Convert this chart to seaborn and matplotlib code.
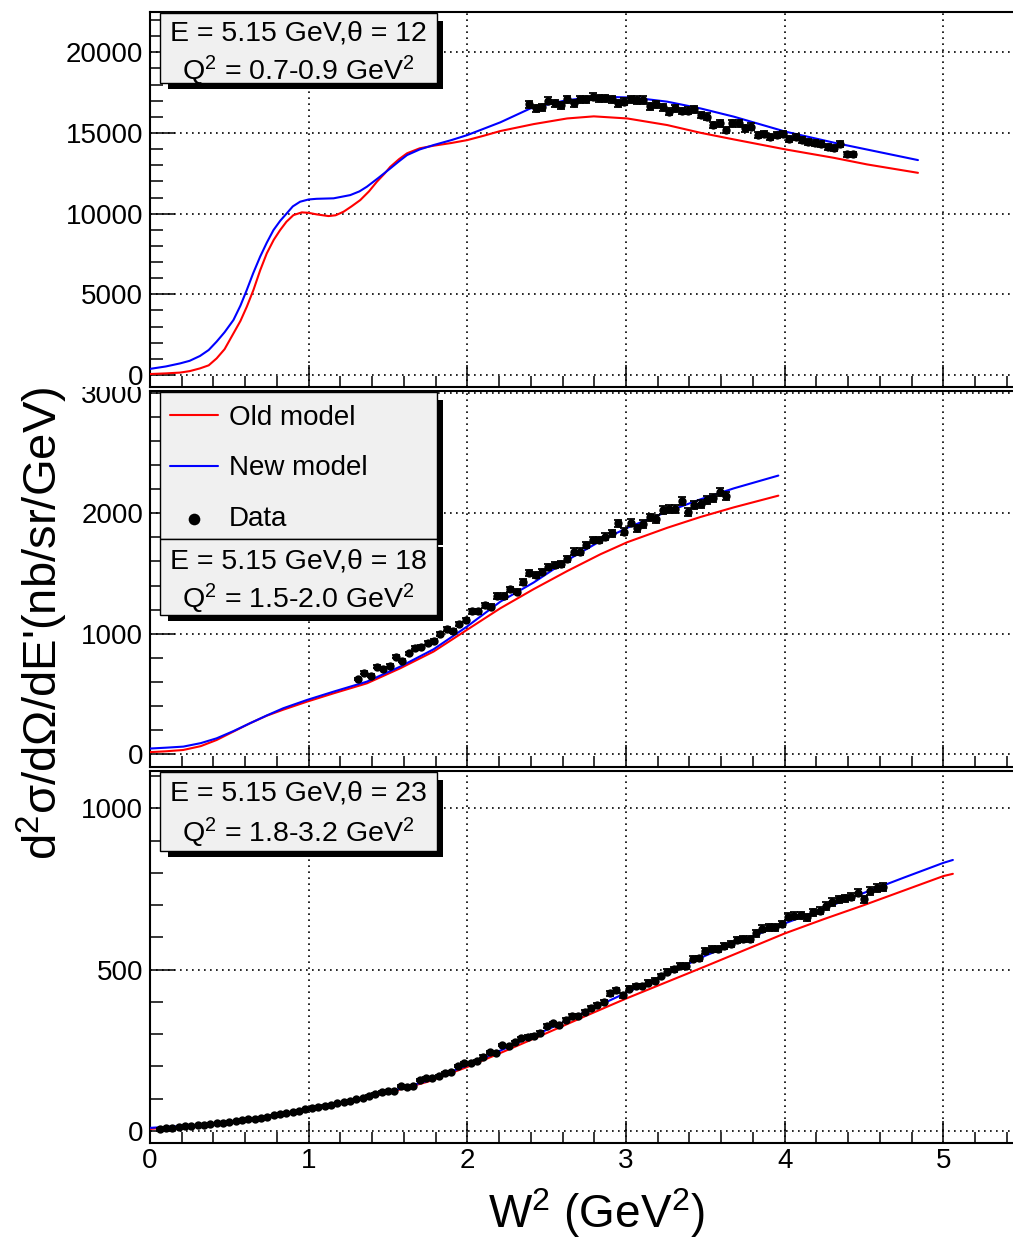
import matplotlib
matplotlib.use("Agg")
import matplotlib.pyplot as plt
import seaborn as sns
from matplotlib.patches import Rectangle
from matplotlib.ticker import MultipleLocator, StrMethodFormatter

sns.set_theme(style="white")
plt.rcParams["font.family"] = ["Liberation Sans", "DejaVu Sans"]
plt.rcParams["mathtext.fontset"] = "custom"
plt.rcParams["mathtext.rm"] = "Liberation Sans"
plt.rcParams["mathtext.it"] = "Liberation Sans:italic"
plt.rcParams["mathtext.bf"] = "Liberation Sans:bold"
plt.rcParams["axes.edgecolor"] = "black"
plt.rcParams["axes.linewidth"] = 1.5
plt.rcParams["text.color"] = "black"

# ---- top panel: theta = 12 ----
top_x_old = [0.00, 0.10, 0.19, 0.25, 0.315, 0.37, 0.42, 0.47, 0.526, 0.57, 0.61, 0.652, 0.694, 0.736, 0.78,
             0.82, 0.86, 0.904, 0.957, 1.00, 1.05, 1.125, 1.17, 1.22, 1.27, 1.325, 1.38, 1.43, 1.48, 1.514,
             1.57, 1.62, 1.70, 1.787, 1.90, 2.00, 2.10, 2.208, 2.418, 2.629, 2.797, 3.008, 3.26, 3.47, 3.68,
             4.006, 4.31, 4.52, 4.84]
top_y_old = [60, 100, 150, 240, 410, 600, 1030, 1600, 2580, 3350, 4230, 5270, 6480, 7540, 8380,
             8980, 9500, 9910, 10080, 10050, 9955, 9850, 9900, 10120, 10450, 10840, 11380, 11980, 12500, 12900,
             13380, 13740, 14050, 14210, 14380, 14560, 14820, 15120, 15550, 15900, 16030, 15900, 15490, 15010, 14600,
             13980, 13460, 13050, 12530]
top_x_new = [0.00, 0.10, 0.19, 0.25, 0.315, 0.37, 0.42, 0.47, 0.526, 0.57, 0.61, 0.65, 0.694, 0.736, 0.778,
             0.82, 0.862, 0.90, 0.946, 1.00, 1.05, 1.157, 1.262, 1.32, 1.367, 1.44, 1.514, 1.57, 1.62, 1.70,
             1.787, 1.90, 2.00, 2.10, 2.208, 2.397, 2.629, 2.839, 3.05, 3.26, 3.47, 3.68, 4.006, 4.31, 4.84]
top_y_new = [380, 530, 720, 880, 1180, 1550, 2070, 2650, 3410, 4300, 5270, 6300, 7330, 8200, 8980,
             9550, 10020, 10450, 10740, 10880, 10920, 10950, 11150, 11380, 11670, 12220, 12800, 13250, 13630, 13980,
             14250, 14560, 14870, 15250, 15660, 16520, 17040, 17250, 17190, 16940, 16520, 16010, 15080, 14400, 13320]
top_x_data = [2.39, 2.43, 2.47, 2.51, 2.55, 2.59, 2.63, 2.67, 2.71, 2.75, 2.79, 2.83, 2.87, 2.91, 2.95,
              2.99, 3.03, 3.07, 3.11, 3.15, 3.19, 3.23, 3.27, 3.31, 3.35, 3.39, 3.43, 3.47, 3.51, 3.55,
              3.59, 3.63, 3.67, 3.71, 3.75, 3.79, 3.83, 3.87, 3.91, 3.95, 3.99, 4.03, 4.07, 4.11, 4.15,
              4.19, 4.23, 4.27, 4.31, 4.35, 4.39, 4.43]
top_y_data = [16790, 16520, 16590, 17000, 16830, 16730, 17100, 16830, 17080, 17080, 17250, 17140, 17140, 17100, 16830,
              16940, 17100, 17040, 17040, 16670, 16770, 16590, 16320, 16520, 16360, 16380, 16460, 16110, 16010, 15490,
              15590, 15180, 15590, 15590, 15290, 15390, 14870, 14930, 14770, 14870, 14930, 14600, 14770, 14560, 14460,
              14400, 14310, 14150, 14050, 14310, 13670, 13670]

# ---- middle panel: theta = 18 ----
mid_x_model = [0.00, 0.10, 0.21, 0.32, 0.42, 0.526, 0.63, 0.736, 0.84, 0.99, 1.157, 1.367, 1.577, 1.787, 1.997,
               2.208, 2.418, 2.629, 2.839, 3.008, 3.26, 3.47, 3.68, 3.96]
mid_y_old = [15, 22, 33, 65, 116, 186, 255, 318, 368, 435, 504, 587, 712, 851, 1031,
             1211, 1370, 1520, 1660, 1760, 1880, 1970, 2050, 2147]
mid_y_new = [45, 52, 61, 90, 130, 190, 255, 320, 380, 449, 518, 601, 726, 870, 1058,
             1266, 1425, 1610, 1770, 1880, 2014, 2117, 2208, 2314]
mid_x_data = [1.31, 1.35, 1.39, 1.43, 1.47, 1.51, 1.55, 1.59, 1.63, 1.67, 1.71, 1.75, 1.79, 1.83, 1.87,
              1.91, 1.95, 1.99, 2.03, 2.07, 2.11, 2.15, 2.19, 2.23, 2.27, 2.31, 2.35, 2.39, 2.43, 2.47,
              2.51, 2.55, 2.59, 2.63, 2.67, 2.71, 2.75, 2.79, 2.83, 2.87, 2.91, 2.95, 2.99, 3.03, 3.07,
              3.11, 3.15, 3.19, 3.23, 3.27, 3.31, 3.35, 3.39, 3.43, 3.47, 3.51, 3.55, 3.59, 3.63]
mid_y_data = [623, 676, 651, 726, 709, 734, 809, 776, 837, 884, 892, 920, 939, 997, 1036,
              1025, 1078, 1114, 1186, 1186, 1236, 1225, 1313, 1313, 1369, 1349, 1430, 1502, 1488, 1516,
              1552, 1571, 1579, 1621, 1682, 1682, 1737, 1779, 1779, 1807, 1834, 1917, 1848, 1923, 1876,
              1912, 1967, 1951, 2028, 2034, 2034, 2103, 2014, 2070, 2075, 2111, 2125, 2175, 2145]

# ---- bottom panel: theta = 23 ----
bot_x_model = [0.00, 0.25, 0.50, 0.75, 1.00, 1.25, 1.50, 1.75, 2.00, 2.25, 2.50, 2.75, 3.00, 3.25, 3.50,
               3.75, 4.00, 4.25, 4.50, 4.75, 5.00, 5.06]
bot_y_old = [6, 14, 27, 44, 65, 90, 118, 152, 198, 250, 303, 357, 410, 460, 510,
             561, 612, 657, 700, 745, 790, 797]
bot_y_new = [9, 16, 28, 45, 66, 91, 120, 155, 203, 258, 313, 370, 428, 484, 543,
             594, 643, 690, 738, 785, 831, 840]
bot_x_data = [0.06, 0.10, 0.14, 0.18, 0.22, 0.26, 0.30, 0.34, 0.38, 0.42,
              0.46, 0.50, 0.54, 0.58, 0.62, 0.66, 0.70, 0.74, 0.78, 0.82,
              0.86, 0.90, 0.94, 0.98, 1.02, 1.06, 1.10, 1.14, 1.18, 1.22,
              1.26, 1.30, 1.34, 1.38, 1.42, 1.46, 1.50, 1.54, 1.58, 1.62,
              1.66, 1.70, 1.74, 1.78, 1.82, 1.86, 1.90, 1.94, 1.98, 2.02,
              2.06, 2.10, 2.14, 2.18, 2.22, 2.26, 2.30, 2.34, 2.38, 2.42,
              2.46, 2.50, 2.54, 2.58, 2.62, 2.66, 2.70, 2.74, 2.78, 2.82,
              2.86, 2.90, 2.94, 2.98, 3.02, 3.06, 3.10, 3.14, 3.18, 3.22,
              3.26, 3.30, 3.34, 3.38, 3.42, 3.46, 3.50, 3.54, 3.58, 3.62,
              3.66, 3.70, 3.74, 3.78, 3.82, 3.86, 3.90, 3.94, 3.98, 4.02,
              4.06, 4.10, 4.14, 4.18, 4.22, 4.26, 4.30, 4.34, 4.38, 4.42,
              4.46, 4.50, 4.54, 4.58, 4.62]
bot_y_data = [7, 8, 9, 12, 14, 15, 17, 18, 20, 23,
              25, 27, 30, 33, 35, 38, 40, 44, 48, 51,
              54, 58, 62, 66, 70, 75, 78, 81, 85, 89,
              93, 97, 101, 108, 114, 120, 124, 123, 139, 135,
              140, 157, 165, 163, 170, 178, 183, 202, 209, 211,
              217, 230, 244, 240, 266, 263, 274, 287, 292, 294,
              304, 325, 333, 328, 343, 356, 356, 369, 380, 389,
              399, 426, 437, 420, 441, 449, 449, 459, 465, 480,
              493, 501, 511, 511, 534, 535, 557, 563, 563, 574,
              579, 592, 594, 594, 612, 627, 631, 631, 641, 664,
              667, 669, 662, 678, 683, 697, 710, 718, 721, 726,
              739, 718, 744, 752, 755]

box_lines = [
    ("E = 5.15 GeV,θ = 12", r"Q$^{2}$ = 0.7-0.9 GeV$^{2}$"),
    ("E = 5.15 GeV,θ = 18", r"Q$^{2}$ = 1.5-2.0 GeV$^{2}$"),
    ("E = 5.15 GeV,θ = 23", r"Q$^{2}$ = 1.8-3.2 GeV$^{2}$"),
]

W, H = 1013, 1241
fig = plt.figure(figsize=(W / 100, H / 100), dpi=100)


def fx(px):
    return px / W


def fy(py):
    return 1 - py / H


def panel(top_px, bot_px, z):
    ax = fig.add_axes([fx(150), fy(bot_px), fx(W) - fx(150), (bot_px - top_px) / H], zorder=z)
    return ax


ax_top = panel(12.3, 387.3, 2)
ax_mid = panel(391.0, 767.3, 0)
ax_bot = panel(771.3, 1142.7, 0)

panels = [
    (ax_top, top_x_old, top_y_old, top_x_new, top_y_new, top_x_data, top_y_data, 0.013, (-762, 22479), 5000, 1000),
    (ax_mid, mid_x_model, mid_y_old, mid_x_model, mid_y_new, mid_x_data, mid_y_data, 0.016, (-111, 3017), 1000, 200),
    (ax_bot, bot_x_model, bot_y_old, bot_x_model, bot_y_new, bot_x_data, bot_y_data, 0.016, (-37, 1115), 500, 100),
]

for ax, xo, yo, xn, yn, xd, yd, rel, ylim, major, minor in panels:
    sns.lineplot(x=xo, y=yo, ax=ax, color="red", linewidth=1.5, sort=False, estimator=None,
                 label="Old model", legend=False, zorder=3)
    sns.lineplot(x=xn, y=yn, ax=ax, color="blue", linewidth=1.5, sort=False, estimator=None,
                 label="New model", legend=False, zorder=3)
    ax.errorbar(xd, yd, yerr=[v * rel for v in yd], fmt="none", ecolor="black",
                elinewidth=1.3, capsize=3, capthick=1.3, zorder=4)
    sns.scatterplot(x=xd, y=yd, ax=ax, color="black", s=36, linewidth=0,
                    label="Data", legend=False, zorder=5)

    ax.set_xlim(0, 5.439)
    ax.set_ylim(*ylim)
    ax.set_xlabel("")
    ax.set_ylabel("")
    ax.xaxis.set_major_locator(MultipleLocator(1))
    ax.xaxis.set_minor_locator(MultipleLocator(0.2))
    ax.yaxis.set_major_locator(MultipleLocator(major))
    ax.yaxis.set_minor_locator(MultipleLocator(minor))
    ax.yaxis.set_major_formatter(StrMethodFormatter("{x:.0f}"))
    ax.spines["right"].set_visible(False)
    ax.tick_params(which="both", direction="in", bottom=True, left=True, top=False, right=False,
                   colors="black", width=1.1, labelsize=20)
    ax.tick_params(axis="y", which="major", length=18, pad=5)
    ax.tick_params(axis="y", which="minor", length=9)
    ax.tick_params(axis="x", which="major", length=16, pad=4)
    ax.tick_params(axis="x", which="minor", length=8)
    ax.grid(True, which="major", color="black", linestyle=(0, (1, 2.6)), linewidth=1.2)

ax_top.tick_params(labelbottom=False)
ax_mid.tick_params(labelbottom=False)

# white strip so the top pad hides what pokes up from the middle pad
fig.add_artist(Rectangle((0, fy(387.3)), fx(150), 387.3 / H, transform=fig.transFigure,
                         facecolor="white", edgecolor="none", zorder=1))


def add_box(x0, y0, x1, y1, shadow=True):
    if shadow:
        fig.add_artist(Rectangle((fx(x0 + 8), fy(y1 + 6)), (x1 - x0 - 2) / W, (y1 - y0 - 2) / H,
                                 transform=fig.transFigure, facecolor="black", edgecolor="none", zorder=5))
    fig.add_artist(Rectangle((fx(x0), fy(y1)), (x1 - x0) / W, (y1 - y0) / H, transform=fig.transFigure,
                             facecolor="#f0f0f0", edgecolor="black", linewidth=1.0, zorder=6))


# text boxes (pixel layout: left, top, right, bottom, baselines)
add_box(160, 13, 437, 83)
add_box(160, 392, 437, 539)
add_box(160, 539, 437, 615)
add_box(160, 772, 437, 851)

for (l1, l2), (b1, b2) in zip(box_lines, [(40, 80), (568, 608), (800, 842)]):
    fig.text(fx(298.5), fy(b1), l1, ha="center", va="baseline", fontsize=20.5, zorder=8)
    fig.text(fx(298.5), fy(b2), l2, ha="center", va="baseline", fontsize=20.5, zorder=8)

handles, labels = ax_mid.get_legend_handles_labels()
leg = fig.legend(handles, labels, loc="upper left", bbox_to_anchor=(fx(170), fy(405)),
                 bbox_transform=fig.transFigure, frameon=False, fontsize=20, borderpad=0,
                 borderaxespad=0, handlelength=1.73, handletextpad=0.4, labelspacing=0.88,
                 markerscale=1.4)
leg.set_zorder(8)

fig.text(fx(42), fy(860), r"d$^{2}$σ/dΩ/dE'(nb/sr/GeV)", rotation=90, ha="center", va="bottom",
         fontsize=34, zorder=0.5)
fig.text(fx(596), fy(1228), r"W$^{2}$ (GeV$^{2}$)", ha="center", va="baseline", fontsize=33)

fig.savefig("out.png", dpi=100)
